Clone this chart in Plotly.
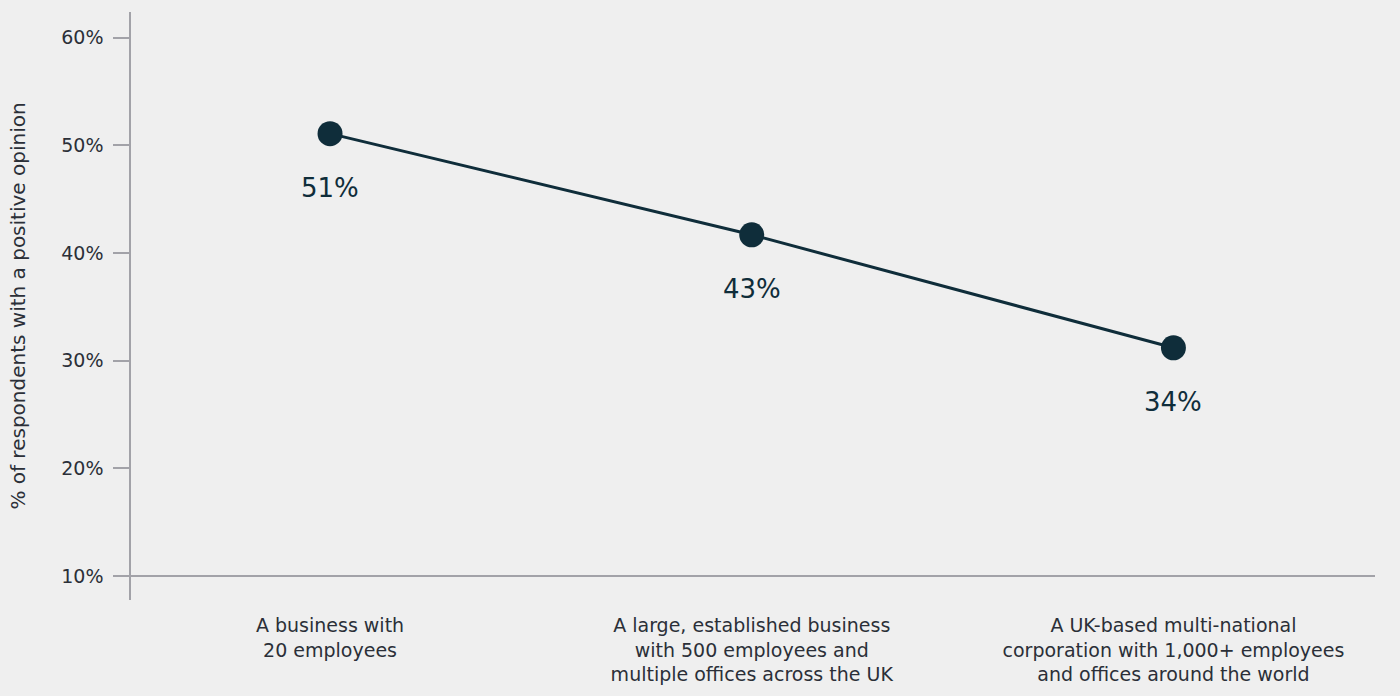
import plotly.graph_objects as go

categories = [
    "A business with<br>20 employees",
    "A large, established business<br>with 500 employees and<br>multiple offices across the UK",
    "A UK-based multi-national<br>corporation with 1,000+ employees<br>and offices around the world",
]
values = [51.1, 41.7, 31.2]
value_labels = ["51%", "43%", "34%"]
y_ticks = [10, 20, 30, 40, 50, 60]
y_tick_text = ["10%", "20%", "30%", "40%", "50%", "60%"]

navy = "#0f2d3a"
axis_gray = "#a2a2a8"
text_gray = "#2b2f38"
bg = "#efefef"
font_family = "DejaVu Sans, sans-serif"

fig = go.Figure()
fig.add_trace(go.Scatter(
    x=categories, y=values, mode="lines+markers",
    line=dict(color=navy, width=3),
    marker=dict(color=navy, size=25),
    hoverinfo="skip", showlegend=False,
))

for c, v, t in zip(categories, values, value_labels):
    fig.add_annotation(x=c, y=v, text=t, showarrow=False, yshift=-54,
                       font=dict(size=26, color=navy, family=font_family))

# baseline at 10%
fig.add_shape(type="line", xref="paper", yref="y", x0=-0.0129, x1=1, y0=10, y1=10,
              line=dict(color=axis_gray, width=2), layer="below")

fig.update_layout(
    width=1400, height=696,
    margin=dict(l=131, r=25, t=12, b=96),
    paper_bgcolor=bg, plot_bgcolor=bg,
    font=dict(family=font_family, color=text_gray),
    xaxis=dict(
        range=[-0.472, 2.478], showgrid=False, zeroline=False, showline=False,
        ticks="", tickfont=dict(size=19, color=text_gray), ticklabelstandoff=12,
    ),
    yaxis=dict(
        range=[7.77, 62.4], tickvals=y_ticks, ticktext=y_tick_text,
        showgrid=False, zeroline=False, showline=True, linecolor=axis_gray, linewidth=1.5,
        ticks="outside", ticklen=16, tickcolor=axis_gray, tickwidth=1.5,
        tickfont=dict(size=19, color=text_gray), ticklabelstandoff=6,
        title=dict(text="% of respondents with a positive opinion", font=dict(size=20, color=text_gray), standoff=30),
    ),
)

fig.write_html("out.html")
